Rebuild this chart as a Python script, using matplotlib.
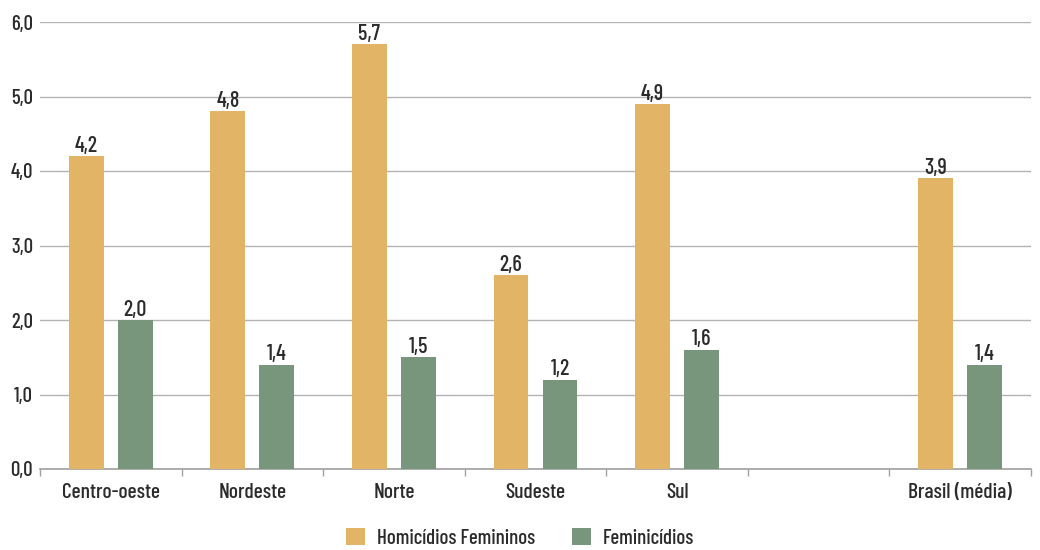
import matplotlib
matplotlib.use("Agg")
import matplotlib.pyplot as plt
from matplotlib import font_manager as fm
import numpy as np

categories = ["Centro-oeste", "Nordeste", "Norte", "Sudeste", "Sul", "", "Brasil (média)"]
homicidios = [4.2, 4.8, 5.7, 2.6, 4.9, np.nan, 3.9]
feminicidios = [2.0, 1.4, 1.5, 1.2, 1.6, np.nan, 1.4]
series_names = ["Homicídios Femininos", "Feminicídios"]
yticks = [0, 1, 2, 3, 4, 5, 6]

avail = {f.name for f in fm.fontManager.ttflist}
fam = [f for f in ["Barlow Condensed", "Roboto Condensed", "DejaVu Sans"] if f in avail]
plt.rcParams['font.family'] = fam
plt.rcParams['font.weight'] = 500

orange = "#E2B466"
green = "#77967B"
txt = "#2b2b2b"
grid = "#b3b3b3"

fig = plt.figure(figsize=(10.4, 5.5), dpi=100)
ax = fig.add_axes([40/1040, 1-469/550, (1031-40)/1040, (469-22)/550])

x = np.arange(len(categories))
w = 0.247
off = 0.173
b1 = ax.bar(x - off, homicidios, w, color=orange, label=series_names[0], zorder=3)
b2 = ax.bar(x + off, feminicidios, w, color=green, label=series_names[1], zorder=3)

for bars, vals in ((b1, homicidios), (b2, feminicidios)):
    for r, v in zip(bars, vals):
        if np.isnan(v):
            continue
        ax.annotate(f"{v:.1f}".replace(".", ","), (r.get_x() + r.get_width()/2, v),
                    xytext=(0, 0.3), textcoords="offset points", ha="center", va="bottom",
                    fontsize=16, color=txt, fontweight=500, zorder=4)

ax.set_xlim(-0.5, len(categories) - 0.5)
ax.set_ylim(0, 6)
ax.set_yticks(yticks)
ax.set_yticklabels([f"{t:.1f}".replace(".", ",") for t in yticks], fontsize=15, color=txt)
ax.yaxis.grid(True, color=grid, linewidth=1, zorder=0)
ax.set_axisbelow(True)
ax.tick_params(axis='y', length=0, pad=5)

ax.set_xticks(x)
ax.set_xticklabels(categories, fontsize=15.5, color=txt)
ax.tick_params(axis='x', which='major', length=0, pad=10)
ax.set_xticks(np.arange(-0.5, len(categories)), minor=True)
ax.tick_params(axis='x', which='minor', length=5, color="#a0a0a0", width=1, direction='out')

for s in ["top", "right", "left"]:
    ax.spines[s].set_visible(False)
ax.spines["bottom"].set_color("#a0a0a0")
ax.spines["bottom"].set_linewidth(1.2)

leg = fig.legend(handles=[b1, b2], labels=series_names, loc="lower center",
                 bbox_to_anchor=(0.5, 0.0), ncol=2, frameon=False, fontsize=15,
                 handlelength=0.9, handleheight=0.9, columnspacing=1.8, handletextpad=0.55,
                 borderpad=0.1, borderaxespad=0.0)
for t in leg.get_texts():
    t.set_color(txt)

fig.savefig("out.png", dpi=100)
